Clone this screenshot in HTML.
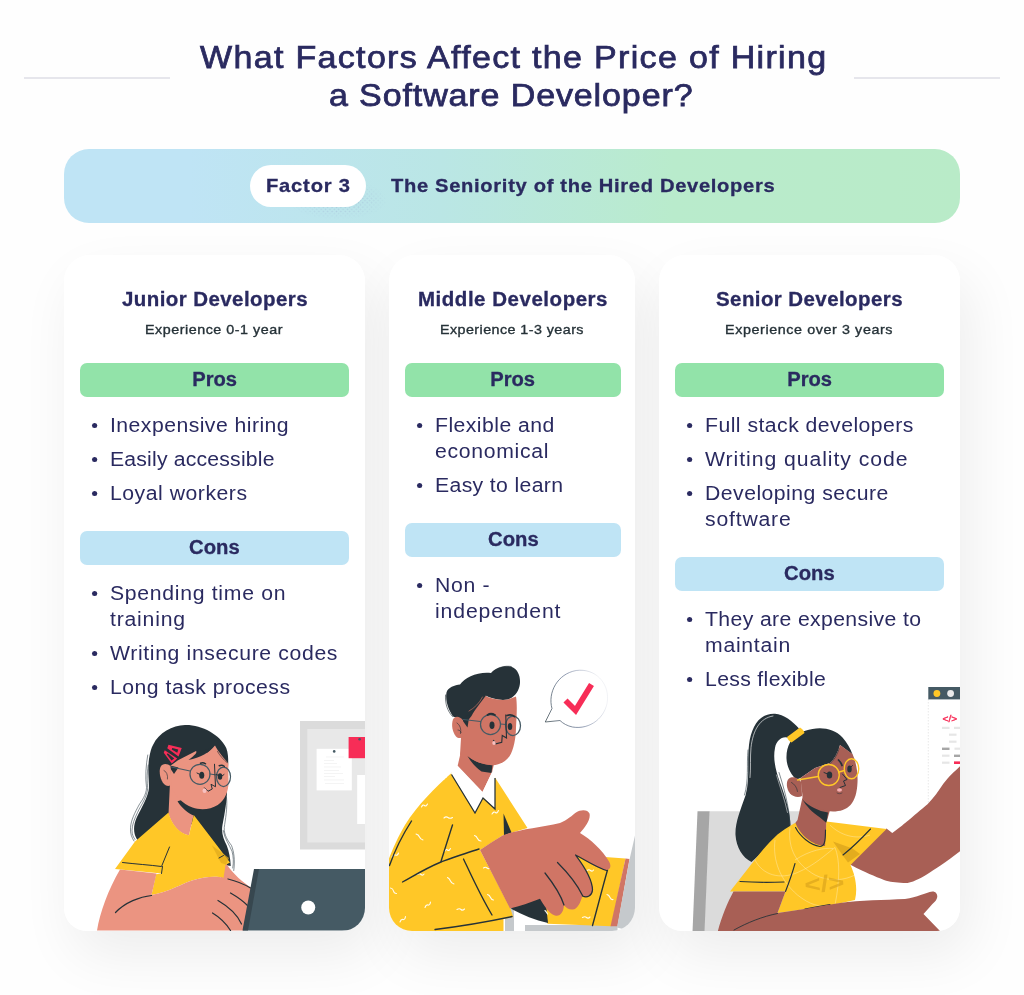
<!DOCTYPE html>
<html lang="en">
<head>
<meta charset="utf-8">
<title>What Factors Affect the Price of Hiring a Software Developer?</title>
<style>
*{box-sizing:border-box;margin:0;padding:0}
html,body{width:1024px;height:995px;overflow:hidden;background:#fefefe}
body{position:relative;font-family:"Liberation Sans",sans-serif;color:#2a2a60}
h1 span,.banner span,.card h2,.card p,.card h3,.card li{position:absolute;white-space:nowrap;transform-origin:0 0}
h1 span{transform:scaleX(1.08)}.banner span{transform:scaleX(1.06)}.card h2{transform:scaleX(1.05)}.card p{transform:scaleX(1.1)}.card li{transform:scaleX(1.06)}.card h3 b{display:inline-block;transform-origin:50% 50%}
h1{font-weight:400;font-size:31.5px;line-height:38px}
h1 span{display:block;-webkit-text-stroke:0.75px #2a2a60}
.rule{position:absolute;top:77px;height:2px;width:146px;background:#e6e6ec}
.banner{position:absolute;left:64px;top:149px;width:896px;height:74px;border-radius:25px;
 background:linear-gradient(90deg,#bfe4f5 0%,#bfe4f5 14%,#bae6e5 42%,#b9ebcc 68%,#b9ebc8 100%)}
.banner .pill{position:absolute;left:186px;top:16px;width:116px;height:42px;border-radius:21px;background:#fff}
.banner .dots{position:absolute;left:222px;top:34px;width:100px;height:40px;
 background:radial-gradient(circle,rgba(128,128,190,.42) .55px,transparent 1px) 0 0/4.4px 4.4px,radial-gradient(circle,rgba(128,128,190,.32) .55px,transparent 1px) 2.2px 2.2px/4.4px 4.4px;
 -webkit-mask-image:radial-gradient(ellipse 50% 50% at 52% 42%,#000 20%,transparent 100%);mask-image:radial-gradient(ellipse 50% 50% at 52% 42%,#000 20%,transparent 100%)}
.banner span{font-weight:700;font-size:19px;line-height:24px;-webkit-text-stroke:.3px #2a2a60}
.card{position:absolute;top:255px;height:676px;background:#fff;border-radius:26px 26px 23px 23px;overflow:hidden}
.shadow{position:absolute;top:255px;height:676px;border-radius:26px 26px 23px 23px;box-shadow:10px 24px 56px rgba(0,0,0,.07)}
.card h2{font-size:19.5px;font-weight:700;line-height:24px;-webkit-text-stroke:.3px #2a2a60}
.card p{font-size:13px;line-height:16px;color:#263238;-webkit-text-stroke:0.35px #263238}
.card h3{-webkit-text-stroke:.3px #2a2a60;height:34px;border-radius:7px;font-size:19.5px;font-weight:700;line-height:32px;text-align:center}
.card h3.pros{background:#92e3a9}
.card h3.cons{background:#bfe4f5}
.card ul{list-style:none}
.card li{font-size:20px;line-height:26px}
.card li i{position:absolute;width:4.7px;height:5px;border-radius:50%;background:#2a2a60;top:10.5px}
.card li span{display:block}
.card svg{position:absolute;left:0;top:0}
</style>
</head>
<body>

<header>
<div class="rule" style="left:24px"></div><div class="rule" style="left:854px"></div>
<h1>
<span style="left:199.5px;top:37.6px;letter-spacing:1.22px">What Factors Affect the Price of Hiring</span>
<span style="left:328.5px;top:75.6px;letter-spacing:0.81px">a Software Developer?</span>
</h1>
</header>
<div class="banner">
<div class="dots"></div><div class="pill"></div>
<span style="left:202.0px;top:24.9px;letter-spacing:0.76px">Factor 3</span>
<span style="left:326.5px;top:24.9px;letter-spacing:0.64px">The Seniority of the Hired Developers</span>
</div>
<div class="shadow" style="left:64px;width:301px"></div>
<div class="shadow" style="left:389px;width:246px"></div>
<div class="shadow" style="left:659px;width:301px"></div>
<main>
<section class="card" style="left:64px;width:301px">
<h2 style="left:57.5px;top:32.2px;letter-spacing:0.41px">Junior Developers</h2>
<p style="left:80.5px;top:66.5px;letter-spacing:0.48px">Experience 0-1 year</p>
<h3 class="pros" style="left:16px;top:108px;width:269px"><b style="transform:scaleX(1.033)">Pros</b></h3>
<ul>
<li style="left:45.5px;top:157.1px"><i style="left:-17.0px"></i><span style="letter-spacing:0.43px">Inexpensive hiring</span></li>
<li style="left:45.5px;top:191.1px"><i style="left:-17.0px"></i><span style="letter-spacing:0.18px">Easily accessible</span></li>
<li style="left:45.5px;top:225.1px"><i style="left:-17.0px"></i><span style="letter-spacing:0.49px">Loyal workers</span></li>
</ul>
<h3 class="cons" style="left:16px;top:276px;width:269px"><b style="transform:scaleX(1.038)">Cons</b></h3>
<ul>
<li style="left:45.5px;top:325.1px"><i style="left:-17.0px"></i><span style="letter-spacing:0.66px">Spending time on</span><span style="letter-spacing:0.74px">training</span></li>
<li style="left:45.5px;top:385.1px"><i style="left:-17.0px"></i><span style="letter-spacing:0.6px">Writing insecure codes</span></li>
<li style="left:45.5px;top:419.1px"><i style="left:-17.0px"></i><span style="letter-spacing:0.47px">Long task process</span></li>
</ul>
<svg width="301" height="676" viewBox="64 255 301 676" aria-hidden="true" style="pointer-events:none">
<g id="art-junior">
<!-- pin board -->
<rect x="300" y="721" width="70" height="128.5" fill="#dbdbdb"/>
<rect x="307.3" y="729" width="60" height="113.5" fill="#e8e8e8"/>
<rect x="316.6" y="748.8" width="35.2" height="41.6" fill="#fff"/>
<g stroke="#ececec" stroke-width="0.6"><path d="M326 757h18M324 760.5h10M324 763.5h13M324 767h17M324 770.5h15M324 773.5h19M324 776.5h11M324 780h20M325 783.5h19"/></g>
<circle cx="334.2" cy="751.4" r="1.3" fill="#455a64"/>
<rect x="357.2" y="775" width="10" height="49" fill="#fff"/>
<rect x="348.6" y="737" width="18" height="21.2" fill="#f72d57"/>
<circle cx="359.6" cy="739.3" r="1.3" fill="#455a64"/>
<g transform="translate(90 715) scale(.25)">
<!-- hair back -->
<path fill="#263238" d="M380 40C445 38 520 78 545 132C552 150 553 170 553 192L548 300C548 340 540 390 530 440C524 470 535 500 547 522C556 545 562 575 563 604L540 600L400 430L315 400L200 520L186 494C172 470 174 440 186 412C205 372 232 330 236 292C236 262 230 220 236 176C240 150 246 130 252 120C275 70 330 41 380 40Z"/>
<g fill="none" stroke="#37474f" stroke-width="2.4" stroke-linecap="round">
<path d="M231 160C224 200 220 250 226 290C226 320 205 345 196 360C180 390 164 420 162 450C160 475 168 492 176 504"/>
<path d="M233 200C227 240 228 270 231 292C228 330 204 360 190 390C178 415 168 440 168 462C168 478 174 490 180 498"/>
<path d="M546 330C551 370 541 420 537 450C535 480 553 505 566 522C575 545 581 580 575 622"/>
<path d="M533 462C538 496 558 520 568 545C574 565 575 590 571 612"/>
</g>
<!-- neck -->
<path fill="#eb9481" d="M320 270L314 396C328 440 358 476 396 481L414 402C392 392 366 372 350 345L400 330L360 260Z"/>
<!-- face -->
<path fill="#eb9481" d="M352 181L424 144L470 150L500 122C514 150 540 176 553 194L554 262C556 302 541 340 511 360C481 379 441 381 410 370C370 355 336 322 324 282L320 204Z"/>
<path fill="#263238" d="M500 120C480 150 440 172 394 180C420 160 430 150 424 144C450 146 480 138 500 120Z"/>
<path fill="#263238" d="M312 200L354 210L336 236Z"/>
<path fill="#eb9481" d="M322 204C310 194 290 192 282 208C274 226 282 262 296 276C306 286 320 286 326 276Z"/>
<path fill="none" stroke="#263238" stroke-width="2.5" stroke-linecap="round" d="M296 222C306 226 312 240 310 256"/>
<!-- fringe strands -->
<path fill="none" stroke="#263238" stroke-width="2.5" stroke-linecap="round" d="M510 146C520 164 534 178 548 190"/>
<!-- hair clips -->
<g fill="#f72d57" fill-rule="evenodd"><path d="M314 119L367 132L354 166L309 133ZM329 132L327 138L349 151L353 138Z"/><path d="M299 141L349 174L327 194L295 151ZM311 153L307 157L326 182L337 174Z"/></g>
<!-- glasses -->
<g fill="none" stroke="#455a64" stroke-width="5"><circle cx="440" cy="237" r="40"/><ellipse cx="534" cy="247" rx="28" ry="39"/><path d="M480 236L506 240M400 224L326 208" stroke-linecap="round"/></g>
<!-- eyes / brows / nose / mouth -->
<g fill="#263238"><ellipse cx="447" cy="241" rx="10" ry="14"/><ellipse cx="520" cy="246" rx="9" ry="13"/></g>
<g fill="none" stroke="#263238" stroke-width="4" stroke-linecap="round" stroke-linejoin="miter">
<path d="M428 232L440 238M506 238L514 242M536 238L528 244"/>
<path stroke-width="6" d="M442 193C448 190 456 191 462 195M517 203C524 200 531 201 537 205"/>
<path d="M498 197L502 287L484 277L489 296L472 305L458 291"/>
</g>
<ellipse cx="458" cy="303" rx="8" ry="9" fill="#f7c1c0"/>
<!-- far forearm -->
<path fill="#eb9481" d="M528 598L546 596C575 640 612 668 646 692L640 760L520 700Z"/>
<!-- shirt -->
<path fill="#ffc727" d="M314 390C326 436 356 474 396 481L415 400L560 590L542 600L534 652C500 642 450 650 408 662C370 674 320 706 246 720L264 637L288 634L100 616L180 506Z"/>
<path fill="#e0a91c" d="M488 522L556 572L544 598L524 592Z" opacity=".7"/>
<g fill="none" stroke="#263238" stroke-width="4" stroke-linecap="round"><path d="M130 590C180 596 240 600 286 606L318 528M290 606L286 634"/><path d="M516 572L534 562"/></g>
<!-- near arm -->
<path fill="#eb9481" d="M120 618L266 634L246 720C320 706 370 674 408 662C450 650 500 642 534 652C575 645 615 670 646 694L614 862L28 862C40 790 72 700 120 618Z"/>
<g fill="none" stroke="#263238" stroke-width="5" stroke-linecap="round">
<path d="M102 790C140 750 200 726 246 722"/>
<path d="M512 742C560 770 590 800 606 836"/>
<path d="M490 792C520 810 545 835 562 862"/>
<path d="M562 712C590 728 612 744 630 762"/>
<path d="M552 656C585 664 615 676 642 692"/>
</g>
<!-- laptop -->
<path fill="#455a64" d="M660 616L1110 616L1110 862L612 862Z"/>
<path fill="#37474f" d="M656 616L676 616L632 862L610 862Z"/>
<circle cx="873" cy="770" r="28" fill="#fff"/>
</g>
</g>

</svg>
</section>
<section class="card" style="left:389px;width:246px">
<h2 style="left:28.5px;top:32.2px;letter-spacing:0.51px">Middle Developers</h2>
<p style="left:51.0px;top:66.5px;letter-spacing:0.4px">Experience 1-3 years</p>
<h3 class="pros" style="left:16px;top:108px;width:216px"><b style="transform:scaleX(1.033)">Pros</b></h3>
<ul>
<li style="left:45.5px;top:157.1px"><i style="left:-17.0px"></i><span style="letter-spacing:0.42px">Flexible and</span><span style="letter-spacing:0.66px">economical</span></li>
<li style="left:45.5px;top:217.1px"><i style="left:-17.0px"></i><span style="letter-spacing:0.34px">Easy to learn</span></li>
</ul>
<h3 class="cons" style="left:16px;top:268px;width:216px"><b style="transform:scaleX(1.038)">Cons</b></h3>
<ul>
<li style="left:45.5px;top:317.1px"><i style="left:-17.0px"></i><span style="letter-spacing:0.63px">Non -</span><span style="letter-spacing:0.83px">independent</span></li>
</ul>
<svg width="246" height="676" viewBox="389 255 246 676" aria-hidden="true" style="pointer-events:none">
<g id="art-middle" transform="translate(385 655) scale(.25)">
<!-- speech bubble -->
<defs><linearGradient id="bub" gradientUnits="userSpaceOnUse" x1="640" y1="230" x2="900" y2="150"><stop offset="0" stop-color="#37474f"/><stop offset=".45" stop-color="#5a6b8c" stop-opacity=".9"/><stop offset=".9" stop-color="#8a94b0" stop-opacity=".15"/></linearGradient></defs>
<path fill="#fff" stroke="url(#bub)" stroke-width="3" stroke-linejoin="round" d="M668 214C650 150 690 75 765 62C840 52 895 110 890 180C884 250 820 300 750 288C730 284 712 274 700 262L641 268Z"/>
<path fill="none" stroke="#f72d57" stroke-width="23" d="M722 182L762 222L826 118"/>
<!-- laptop base -->
<path fill="#c5c9cc" d="M480 1010H516V1110H480Z"/>
<path fill="#fff" d="M516 1020H560V1110H516Z"/>
<path fill="#c5c9cc" d="M560 1080H930V1110H560Z"/>
<!-- sweater body -->
<path fill="#ffc727" d="M268 470C200 530 130 600 80 680C50 730 25 790 10 830L10 1120L474 1120L474 1056L513 1048L500 1010L380 780L470 722L570 692L440 490L360 628Z"/>
<!-- far sleeve -->
<path fill="#ffc727" d="M770 800L962 814L905 1085L650 1075L620 985Z"/>
<path fill="#d07565" d="M962 814L978 816L930 1085L902 1085Z"/>
<path fill="#c5c9cc" d="M978 818L1005 700L1005 1110L928 1090Z"/>
<!-- dark gap -->
<path fill="#263238" d="M500 1000L640 960L652 1072C600 1060 550 1040 506 1016Z"/>
<path fill="#263238" d="M474 634L506 710L476 722Z"/>
<!-- neck -->
<path fill="#d07565" d="M305 380L290 446L390 548L428 470L440 420Z"/>
<path fill="#263238" d="M330 404C345 430 365 452 386 466L426 472L430 440C395 440 360 428 330 404Z"/>
<!-- collar -->
<path fill="#fff" d="M290 442L264 474L360 630L392 570L440 614L440 490L428 468L390 548Z"/>
<path fill="none" stroke="#263238" stroke-width="5" stroke-linejoin="miter" d="M266 478L360 632L392 572L440 616L440 492"/>
<!-- hair -->
<path fill="#263238" d="M246 150C250 130 280 120 300 118C320 90 370 66 424 72C445 50 480 40 508 48C535 58 545 95 538 125C532 150 515 170 492 178C460 184 425 174 402 162L410 172L352 252L330 264L308 258L272 246C255 220 240 185 246 150Z"/>
<path fill="none" stroke="#263238" stroke-width="2.5" stroke-linecap="round" d="M242 160C240 195 250 225 270 246M428 70C450 48 480 42 505 46M336 222C355 215 375 200 390 178"/>
<!-- face -->
<path fill="#d07565" d="M346 244C358 220 384 190 402 164C425 174 460 184 492 178L524 166C530 200 526 250 524 290C524 330 515 380 498 405C480 430 450 444 420 440C380 435 345 420 325 398L300 400L308 262L330 264Z"/>
<path fill="#263238" d="M306 256L338 238L330 290Z"/>
<path fill="none" stroke="#d07565" stroke-width="2.5" stroke-linecap="round" d="M336 224C358 212 378 192 390 168"/>
<path fill="#d07565" d="M312 262C300 245 280 242 272 258C264 278 270 310 284 326C294 336 308 334 312 322Z"/>
<path fill="none" stroke="#263238" stroke-width="2.5" stroke-linecap="round" d="M288 272C300 280 306 296 302 314M292 300C298 300 302 304 304 310"/>
<!-- glasses -->
<g fill="none" stroke="#455a64" stroke-width="5"><circle cx="422" cy="278" r="40"/><ellipse cx="512" cy="283" rx="30" ry="39"/><path d="M462 276L484 278M382 266L312 258" stroke-linecap="round"/></g>
<g fill="#263238"><ellipse cx="428" cy="281" rx="10" ry="15"/><ellipse cx="500" cy="286" rx="9" ry="14"/></g>
<g fill="none" stroke="#263238" stroke-linecap="round" stroke-linejoin="miter">
<path stroke-width="7" d="M410 240C418 234 430 234 440 240M488 242C498 238 510 240 518 246"/>
<path stroke-width="4.5" stroke-linecap="butt" d="M483 238L486 332L469 322L467 349L444 355L433 340"/>
</g>
<ellipse cx="436" cy="352" rx="7" ry="8" fill="#f7c1c0"/>
<!-- sweater squiggles -->
<g fill="none" stroke="#fff" stroke-width="4.5" stroke-linecap="round" opacity=".92">
<path d="M146 608q6 -12 12 -6t12 -6M236 652q8 -8 16 -2t18 0M428 636q8 -12 14 -6t12 -8M124 716q10 2 14 12t14 12M238 786q6 -12 12 -6t12 -6M358 722q8 2 12 12t14 10M28 808q6 -12 14 -8t12 -8M128 878q10 -6 16 0t12 -2M250 890q8 4 12 14t14 12M394 852q8 -6 14 0t12 -2M22 932q10 2 12 12t12 10M160 1010q4 -12 12 -10t10 -12M288 1018q10 -6 16 0t14 -2M410 958q8 2 12 12t12 10M60 1068q4 -12 12 -10t10 -12M236 496q4 -10 10 -8M808 862q8 -6 14 0t12 -2M888 958q8 2 12 12t12 8M790 1050q10 -6 16 0t14 -2M640 1022q6 6 10 14"/>
</g>
<!-- crease lines -->
<g fill="none" stroke="#263238" stroke-width="5.5" stroke-linecap="round">
<path d="M106 664C70 720 40 780 18 842"/>
<path d="M270 680C254 730 238 780 224 826"/>
<path d="M70 908C120 880 170 850 224 828C280 808 330 790 376 776"/>
<path d="M314 816C340 870 380 960 428 1040"/>
<path d="M200 1098C300 1085 420 1065 508 1046"/>
<path d="M890 860C870 930 850 1010 830 1082"/>
</g>
<!-- hand -->
<path fill="#d07565" d="M380 780C410 760 440 740 470 722C520 700 620 690 700 672C730 660 750 640 764 630C784 616 812 618 818 634C824 660 800 690 780 712C820 736 870 780 896 826C910 850 896 866 872 858C840 848 800 820 764 800C790 840 820 880 830 930C836 960 812 976 790 962C782 990 770 1020 748 1018C734 1018 722 1010 716 1000C714 1030 700 1048 680 1042C655 1034 635 1000 620 975C580 990 540 1005 500 1014Z"/>
<g fill="none" stroke="#263238" stroke-width="5" stroke-linecap="round">
<path d="M762 800C800 820 850 852 886 862M764 802C800 850 830 900 830 940C828 964 808 972 790 964"/>
<path d="M690 830C730 870 770 920 790 962"/>
<path d="M640 872C670 910 700 950 716 1000"/>
</g>
</g>

</svg>
</section>
<section class="card" style="left:659px;width:301px">
<h2 style="left:56.5px;top:32.2px;letter-spacing:0.4px">Senior Developers</h2>
<p style="left:65.5px;top:66.5px;letter-spacing:0.55px">Experience over 3 years</p>
<h3 class="pros" style="left:16px;top:108px;width:269px"><b style="transform:scaleX(1.033)">Pros</b></h3>
<ul>
<li style="left:45.5px;top:157.1px"><i style="left:-17.0px"></i><span style="letter-spacing:0.44px">Full stack developers</span></li>
<li style="left:45.5px;top:191.1px"><i style="left:-17.0px"></i><span style="letter-spacing:0.89px">Writing quality code</span></li>
<li style="left:45.5px;top:225.1px"><i style="left:-17.0px"></i><span style="letter-spacing:0.45px">Developing secure</span><span style="letter-spacing:0.76px">software</span></li>
</ul>
<h3 class="cons" style="left:16px;top:302px;width:269px"><b style="transform:scaleX(1.038)">Cons</b></h3>
<ul>
<li style="left:45.5px;top:351.1px"><i style="left:-17.0px"></i><span style="letter-spacing:0.35px">They are expensive to</span><span style="letter-spacing:0.68px">maintain</span></li>
<li style="left:45.5px;top:411.1px"><i style="left:-17.0px"></i><span style="letter-spacing:0.32px">Less flexible</span></li>
</ul>
<svg width="301" height="676" viewBox="659 255 301 676" aria-hidden="true" style="pointer-events:none">
<g id="art-senior">
<!-- browser window -->
<rect x="928.3" y="699" width="40" height="110" fill="#fff"/>
<path d="M928.3 699V805" stroke="#e3e3e3" stroke-width="0.8" stroke-dasharray="1.5 1.5" fill="none"/>
<rect x="928.3" y="687" width="40" height="12.4" fill="#455a64"/>
<circle cx="936.9" cy="693.5" r="3.4" fill="#ffc727"/>
<circle cx="950.6" cy="693.5" r="3.4" fill="#ebebeb"/>
<text x="942.6" y="721.5" font-family="'Liberation Sans',sans-serif" font-size="9.5" font-weight="400" stroke="#f72d57" stroke-width=".4" fill="#f72d57" textLength="14.5" lengthAdjust="spacingAndGlyphs">&lt;/&gt;</text>
<g fill="#e6e6e6"><rect x="942" y="726.8" width="7.5" height="2.2"/><rect x="954" y="726.8" width="7" height="2.2"/><rect x="949" y="733.6" width="7.5" height="2.2"/><rect x="949" y="740.6" width="7.5" height="2.2"/><rect x="954.5" y="747.6" width="6" height="2.2"/><rect x="942" y="754.6" width="7.5" height="2.2"/><rect x="942" y="761.6" width="7.5" height="2.2"/></g>
<g fill="#a6a6a6"><rect x="942" y="747.6" width="7.5" height="2.4"/><rect x="954" y="754.6" width="7" height="2.4"/></g>
<rect x="954" y="761.4" width="7" height="2.6" fill="#f72d57"/>
<g transform="translate(680 700) scale(.25)">
<!-- chair -->
<path fill="#dbdbdb" d="M116 445H480V930H96Z"/>
<path fill="#a6a6a6" d="M70 445H118L98 930H50Z"/>
<!-- ponytail -->
<path fill="#263238" d="M476 114C450 84 415 58 380 55C322 52 286 100 276 180C268 250 280 320 262 382C242 440 220 490 222 540C225 590 250 630 286 648L442 506C442 450 422 390 400 330C386 290 370 240 380 192C386 160 410 142 436 152Z"/>
<g fill="none" stroke-linecap="round"><path stroke="#fff" stroke-width="2.5" d="M372 64C320 72 292 120 284 190C280 230 284 270 280 310"/><path stroke="#fff" stroke-width="2" d="M386 300C400 350 420 400 430 450"/><path stroke="#37474f" stroke-width="2.5" d="M396 290C415 350 436 420 440 500M272 200C266 260 276 320 258 380"/></g>
<!-- raised arm -->
<path fill="#a85f55" d="M670 640L826 514L849 532C880 510 900 492 913 482C950 450 975 430 990 417C1015 392 1035 362 1054 334C1080 300 1100 285 1130 255L1130 598C1100 620 1070 645 1042 662C1000 690 970 710 945 720C925 730 910 733 894 732C860 730 840 728 816 720C780 705 740 690 684 660Z"/>
<!-- neck -->
<path fill="#a85f55" d="M492 380L470 480L440 520L520 600L590 600L586 490L600 440Z"/>
<path fill="#263238" d="M490 398C505 425 530 450 560 470L586 492L592 450C555 445 515 425 490 398Z"/>
<!-- head hair -->
<path fill="#263238" d="M440 170C455 140 490 122 530 116C570 108 620 116 650 150C668 170 682 195 690 218L640 180C630 215 615 240 600 252L540 272L482 312L466 318C445 300 428 270 426 235C425 210 430 188 440 170Z"/>
<!-- face -->
<path fill="#a85f55" d="M482 312L540 272L600 252C615 240 630 215 640 180L690 216C705 250 712 290 710 330C708 370 700 400 682 420C665 438 640 446 612 446C580 445 545 432 520 415C505 405 495 395 490 385Z"/>
<path fill="#a85f55" d="M486 330C476 312 450 302 436 314C422 326 426 356 440 374C452 388 474 392 488 384Z"/>
<path fill="none" stroke="#263238" stroke-width="2.5" stroke-linecap="round" d="M446 330C458 336 468 350 470 366"/>
<path fill="none" stroke="#263238" stroke-width="2.5" stroke-linecap="round" d="M636 196C628 222 614 244 598 256"/>
<!-- hair tie -->
<path fill="#ffc727" d="M428 148L480 110C490 116 496 124 498 132L446 170C438 166 430 158 428 148Z"/>
<!-- glasses -->
<g fill="none" stroke="#ffc727" stroke-width="5.5"><circle cx="595" cy="300" r="42"/><ellipse cx="686" cy="275" rx="29" ry="40"/><path d="M636 288L658 282M553 306L470 320" stroke-linecap="round"/></g>
<g fill="#263238"><ellipse cx="598" cy="300" rx="11" ry="14"/><ellipse cx="678" cy="276" rx="9" ry="14"/></g>
<g fill="none" stroke="#263238" stroke-linecap="round" stroke-linejoin="miter">
<path stroke-width="4" d="M576 290L590 296M690 262L682 270"/>
<path stroke-width="7" d="M634 240C640 246 646 254 648 262"/>
<path stroke-width="4" d="M650 296L668 318L654 324L662 342L640 350"/>
</g>
<ellipse cx="638" cy="360" rx="10" ry="7" fill="#f7b0b4"/>
<path fill="none" stroke="#263238" stroke-width="2" stroke-linecap="round" d="M628 372C634 376 642 376 648 372"/>
<!-- shirt -->
<path fill="#ffc727" d="M462 492C480 540 530 582 580 584L586 486L826 516L682 660C700 700 712 750 700 800L600 822L390 852L422 766L200 766L308 628Q348 576 390 538Q424 512 456 494Z"/>
<g fill="none" stroke="#fff" stroke-width="1.6" opacity=".75"><path d="M440 510C430 600 470 660 540 700C600 730 660 720 700 700"/><path d="M380 560C370 640 400 720 470 780C520 820 560 830 600 822"/><path d="M300 640C330 700 400 720 470 690C540 660 580 620 620 590C640 640 640 720 620 820"/><path d="M600 500C640 540 700 560 760 540"/><path d="M460 640C520 600 580 590 612 594"/></g>
<path fill="#d9a31c" opacity=".75" d="M612 566L690 594L720 616L672 650L650 620Z"/>
<text x="498" y="766" transform="rotate(-4 575 735)" font-family="'Liberation Sans',sans-serif" font-size="92" font-weight="700" fill="#d9a31c" opacity=".65" textLength="160" lengthAdjust="spacingAndGlyphs">&lt;/&gt;</text>
<g fill="none" stroke="#263238" stroke-width="4.5" stroke-linecap="round">
<path d="M462 510C480 545 520 580 560 586C575 586 582 575 582 520"/>
<path d="M240 726C300 730 360 730 416 728M460 654C450 690 436 730 422 766"/>
<path d="M762 516C730 550 690 590 652 620"/>
<path d="M500 836C540 828 575 822 600 818"/>
</g>
<!-- near arm -->
<path fill="#a85f55" d="M214 766L422 766L390 852C470 840 560 826 640 812C720 800 820 800 900 796C950 790 980 770 1010 766C1030 766 1036 790 1020 806C1005 820 990 840 974 856L1040 924L150 930C165 870 190 810 214 766Z"/>
<path fill="none" stroke="#263238" stroke-width="3.5" stroke-linecap="round" d="M216 920C270 890 330 866 390 854"/>
</g>
</g>

</svg>
</section>
</main>
</body>
</html>
